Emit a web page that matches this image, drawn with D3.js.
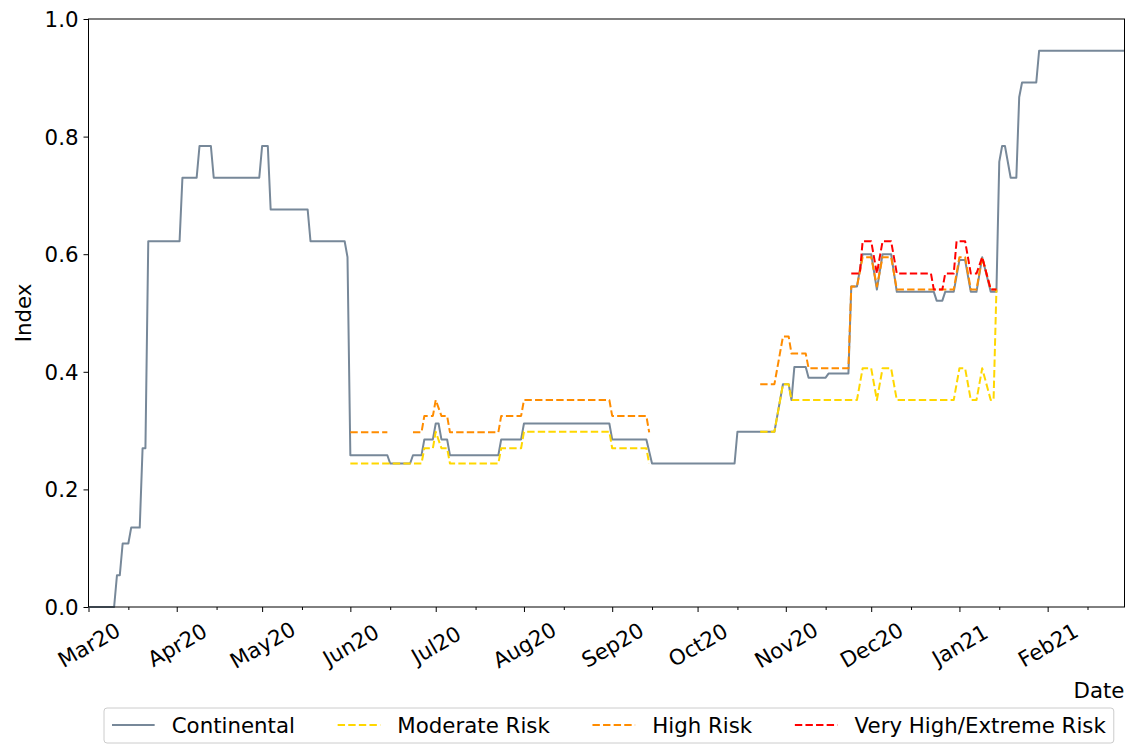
<!DOCTYPE html>
<html>
<head>
<meta charset="utf-8">
<script src="https://cdn.jsdelivr.net/npm/d3@7"></script>
<style>
  html, body { margin: 0; padding: 0; background: #fff; }
  svg { display: block; font-family: "DejaVu Sans", sans-serif; }
</style>
</head>
<body>
<svg id="chart" width="1128" height="745"></svg>
<script>
// Index vertices per series: [date, value]; null marks a break in the series.
const continental = [
  ["2020-03-01", 0], ["2020-03-10", 0], ["2020-03-11", 0.054], ["2020-03-12", 0.054],
  ["2020-03-13", 0.108], ["2020-03-15", 0.108], ["2020-03-16", 0.135], ["2020-03-19", 0.135],
  ["2020-03-20", 0.27], ["2020-03-21", 0.27], ["2020-03-22", 0.622], ["2020-04-02", 0.622],
  ["2020-04-03", 0.73], ["2020-04-08", 0.73], ["2020-04-09", 0.784], ["2020-04-13", 0.784],
  ["2020-04-14", 0.73], ["2020-04-30", 0.73], ["2020-05-01", 0.784], ["2020-05-03", 0.784],
  ["2020-05-04", 0.676], ["2020-05-17", 0.676], ["2020-05-18", 0.622], ["2020-05-30", 0.622],
  ["2020-05-31", 0.595], ["2020-06-01", 0.258], ["2020-06-14", 0.258], ["2020-06-15", 0.244],
  ["2020-06-22", 0.244], ["2020-06-23", 0.258], ["2020-06-26", 0.258], ["2020-06-27", 0.285],
  ["2020-06-30", 0.285], ["2020-07-01", 0.312], ["2020-07-02", 0.312], ["2020-07-03", 0.285],
  ["2020-07-05", 0.285], ["2020-07-06", 0.258], ["2020-07-23", 0.258], ["2020-07-24", 0.285],
  ["2020-07-31", 0.285], ["2020-08-01", 0.312], ["2020-08-31", 0.312], ["2020-09-01", 0.285],
  ["2020-09-13", 0.285], ["2020-09-15", 0.244], ["2020-10-14", 0.244], ["2020-10-15", 0.298],
  ["2020-10-28", 0.298], ["2020-10-31", 0.379], ["2020-11-02", 0.379], ["2020-11-03", 0.352],
  ["2020-11-04", 0.408], ["2020-11-08", 0.408], ["2020-11-09", 0.39], ["2020-11-15", 0.39],
  ["2020-11-16", 0.397], ["2020-11-23", 0.397], ["2020-11-24", 0.545], ["2020-11-26", 0.545],
  ["2020-11-28", 0.6], ["2020-12-01", 0.6], ["2020-12-03", 0.54], ["2020-12-05", 0.6],
  ["2020-12-08", 0.6], ["2020-12-10", 0.536], ["2020-12-23", 0.536], ["2020-12-24", 0.521],
  ["2020-12-26", 0.521], ["2020-12-27", 0.536], ["2020-12-30", 0.536], ["2021-01-01", 0.59],
  ["2021-01-03", 0.59], ["2021-01-05", 0.536], ["2021-01-07", 0.536], ["2021-01-09", 0.595],
  ["2021-01-12", 0.536], ["2021-01-14", 0.536], ["2021-01-15", 0.757], ["2021-01-16", 0.784],
  ["2021-01-17", 0.784], ["2021-01-19", 0.73], ["2021-01-21", 0.73], ["2021-01-22", 0.867],
  ["2021-01-23", 0.892], ["2021-01-28", 0.892], ["2021-01-29", 0.946], ["2021-02-28", 0.946]
];

const moderateRisk = [
  ["2020-06-01", 0.244], ["2020-06-26", 0.244], ["2020-06-27", 0.27], ["2020-06-30", 0.27],
  ["2020-07-01", 0.298], ["2020-07-03", 0.27], ["2020-07-05", 0.27], ["2020-07-06", 0.244],
  ["2020-07-23", 0.244], ["2020-07-24", 0.27], ["2020-07-31", 0.27], ["2020-08-01", 0.298],
  ["2020-08-31", 0.298], ["2020-09-01", 0.27], ["2020-09-13", 0.27], ["2020-09-14", 0.244],
  ["2020-10-01", null],
  ["2020-10-23", 0.298], ["2020-10-28", 0.298], ["2020-10-31", 0.379], ["2020-11-02", 0.379],
  ["2020-11-03", 0.352], ["2020-11-26", 0.352], ["2020-11-28", 0.406], ["2020-12-01", 0.406],
  ["2020-12-03", 0.352], ["2020-12-05", 0.406], ["2020-12-08", 0.406], ["2020-12-10", 0.352],
  ["2020-12-30", 0.352], ["2021-01-01", 0.406], ["2021-01-03", 0.406], ["2021-01-05", 0.352],
  ["2021-01-07", 0.352], ["2021-01-09", 0.406], ["2021-01-12", 0.352], ["2021-01-13", 0.352],
  ["2021-01-14", 0.54]
];

const highRisk = [
  ["2020-06-01", 0.297], ["2020-06-14", 0.297],
  ["2020-06-18", null],
  ["2020-06-23", 0.297], ["2020-06-26", 0.297], ["2020-06-27", 0.325], ["2020-06-30", 0.325],
  ["2020-07-01", 0.352], ["2020-07-03", 0.325], ["2020-07-05", 0.325], ["2020-07-06", 0.297],
  ["2020-07-23", 0.297], ["2020-07-24", 0.325], ["2020-07-31", 0.325], ["2020-08-01", 0.352],
  ["2020-08-31", 0.352], ["2020-09-01", 0.325], ["2020-09-13", 0.325], ["2020-09-14", 0.297],
  ["2020-10-01", null],
  ["2020-10-23", 0.379], ["2020-10-28", 0.379], ["2020-10-31", 0.46], ["2020-11-02", 0.46],
  ["2020-11-03", 0.431], ["2020-11-08", 0.431], ["2020-11-09", 0.406], ["2020-11-23", 0.406],
  ["2020-11-24", 0.545], ["2020-11-26", 0.545], ["2020-11-28", 0.595], ["2020-12-01", 0.595],
  ["2020-12-03", 0.545], ["2020-12-05", 0.595], ["2020-12-08", 0.595], ["2020-12-10", 0.54],
  ["2020-12-30", 0.54], ["2021-01-01", 0.595], ["2021-01-03", 0.595], ["2021-01-05", 0.54],
  ["2021-01-07", 0.54], ["2021-01-09", 0.595], ["2021-01-12", 0.54], ["2021-01-14", 0.54]
];

const veryHighRisk = [
  ["2020-11-24", 0.567], ["2020-11-27", 0.567], ["2020-11-28", 0.622], ["2020-12-01", 0.622],
  ["2020-12-03", 0.567], ["2020-12-05", 0.622], ["2020-12-08", 0.622], ["2020-12-10", 0.567],
  ["2020-12-22", 0.567], ["2020-12-23", 0.54], ["2020-12-26", 0.54], ["2020-12-27", 0.567],
  ["2020-12-30", 0.567], ["2020-12-31", 0.622], ["2021-01-03", 0.622], ["2021-01-05", 0.567],
  ["2021-01-07", 0.567], ["2021-01-09", 0.595], ["2021-01-12", 0.54], ["2021-01-14", 0.54]
];

const yTicks = [0, 0.2, 0.4, 0.6, 0.8, 1.0];
const seriesNames = ["Continental", "Moderate Risk", "High Risk", "Very High/Extreme Risk"];
const seriesColors = ["#778899", "#ffd700", "#ff8c00", "#ff0000"];
const dateRange = ["2020-03-01", "2021-02-28"];

// ---- layout ----
const plot = { left: 88.5, right: 1124.5, top: 19, bottom: 607 };
const fontSize = 21.33;
const dash = "7.4,3.2";

const parse = d3.utcParse("%Y-%m-%d");
const x = d3.scaleUtc().domain(dateRange.map(parse)).range([plot.left, plot.right]);
const y = d3.scaleLinear().domain([0, 1]).range([plot.bottom, plot.top]);

const svg = d3.select("#chart");

// axes
const majorTicks = d3.utcMonth.range(parse("2020-03-01"), parse("2021-03-01"));
const minorTicks = majorTicks.map(d => d3.utcDay.offset(d, 14));

const xAxis = svg.append("g")
  .attr("transform", `translate(0,${plot.bottom})`)
  .call(d3.axisBottom(x).tickValues(majorTicks).tickFormat(d3.utcFormat("%b%y")).tickSize(5).tickSizeOuter(0));
xAxis.select(".domain").remove();
xAxis.selectAll("text")
  .attr("y", 0).attr("dy", null)
  .attr("text-anchor", "middle")
  .attr("dominant-baseline", "central")
  .attr("transform", "translate(0,38) rotate(-30)");

const xMinor = svg.append("g")
  .attr("transform", `translate(0,${plot.bottom})`)
  .call(d3.axisBottom(x).tickValues(minorTicks).tickFormat("").tickSize(3).tickSizeOuter(0));
xMinor.select(".domain").remove();

const yAxis = svg.append("g")
  .attr("transform", `translate(${plot.left},0)`)
  .call(d3.axisLeft(y).tickValues(yTicks).tickFormat(d3.format(".1f")).tickSize(5).tickPadding(5).tickSizeOuter(0));
yAxis.select(".domain").remove();
yAxis.selectAll("text").attr("dy", null).attr("dominant-baseline", "central");

[xAxis, xMinor, yAxis].forEach(g => {
  g.attr("font-size", fontSize).attr("font-family", "DejaVu Sans, sans-serif");
  g.selectAll("line").attr("stroke", "#000").attr("stroke-width", 1);
  g.selectAll("text").attr("fill", "#000");
});

// series lines
const toPoints = arr => arr.map(([d, v]) => ({ date: parse(d), value: v }));
const line = d3.line()
  .defined(p => p.value !== null)
  .x(p => x(p.date))
  .y(p => y(p.value));

const allSeries = [continental, moderateRisk, highRisk, veryHighRisk];
const lines = svg.append("g");
allSeries.forEach((s, i) => {
  lines.append("path")
    .datum(toPoints(s))
    .attr("d", line)
    .attr("fill", "none")
    .attr("stroke", seriesColors[i])
    .attr("stroke-width", 2)
    .attr("stroke-linejoin", "round")
    .attr("stroke-dasharray", i === 0 ? null : dash);
});

// frame
svg.append("rect")
  .attr("x", plot.left).attr("y", plot.top)
  .attr("width", plot.right - plot.left).attr("height", plot.bottom - plot.top)
  .attr("fill", "none").attr("stroke", "#000").attr("stroke-width", 1);

// axis labels
svg.append("text")
  .attr("x", plot.right).attr("y", 698)
  .attr("text-anchor", "end")
  .attr("font-size", fontSize)
  .text("Date");

svg.append("text")
  .attr("transform", `translate(31,${(plot.top + plot.bottom) / 2}) rotate(-90)`)
  .attr("text-anchor", "middle")
  .attr("font-size", fontSize)
  .text("Index");

// legend
const legend = svg.append("g");
const legendFrame = legend.append("rect");
const legendY = 725;
const handleLen = 2 * fontSize, handleGap = 0.8 * fontSize, colGap = 2 * fontSize;
let cursor = 112;
seriesNames.forEach((name, i) => {
  legend.append("line")
    .attr("x1", cursor).attr("x2", cursor + handleLen)
    .attr("y1", legendY).attr("y2", legendY)
    .attr("stroke", seriesColors[i]).attr("stroke-width", 2)
    .attr("stroke-dasharray", i === 0 ? null : dash);
  const t = legend.append("text")
    .attr("x", cursor + handleLen + handleGap).attr("y", legendY)
    .attr("dominant-baseline", "central")
    .attr("font-size", fontSize)
    .text(name);
  cursor = cursor + handleLen + handleGap + t.node().getComputedTextLength() + colGap;
});
const legendRight = cursor - colGap + 8;
legendFrame
  .attr("x", 104).attr("y", 708)
  .attr("width", legendRight - 104).attr("height", 35)
  .attr("rx", 3)
  .attr("fill", "#fff").attr("stroke", "#cccccc").attr("stroke-width", 1);
</script>
</body>
</html>
